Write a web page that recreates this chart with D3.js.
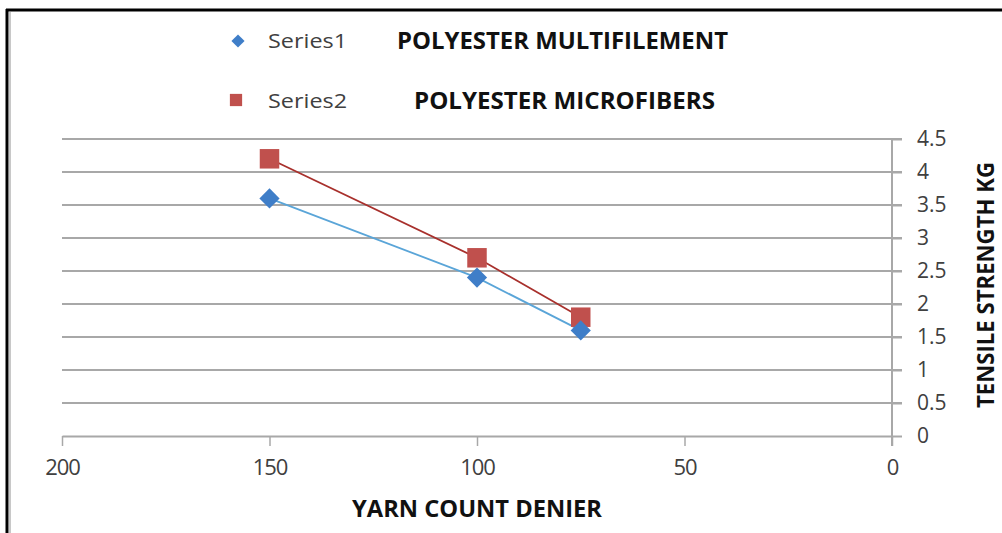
<!DOCTYPE html>
<html><head><meta charset="utf-8">
<script src="https://cdn.jsdelivr.net/npm/d3@7"></script>
<style>body{margin:0;background:#fff}svg{display:block}</style>
</head><body><svg id="c" width="1002" height="533"></svg>
<script>
const xDenier = [150, 100, 75];
const series1 = [3.6, 2.4, 1.6];
const series2 = [4.2, 2.7, 1.8];
const seriesNames = ["Series1", "Series2"];
const seriesLabels = ["POLYESTER MULTIFILEMENT", "POLYESTER MICROFIBERS"];
const xTicks = [200, 150, 100, 50, 0];
const yTicks = [0, 0.5, 1, 1.5, 2, 2.5, 3, 3.5, 4, 4.5];
const xTitle = "YARN COUNT DENIER";
const yTitle = "TENSILE STRENGTH KG";

const svg = d3.select("#c");
const font = "'Open Sans', 'DejaVu Sans', sans-serif";
const bfont = "'Liberation Sans Narrow', 'Open Sans', sans-serif";
const x = d3.scaleLinear().domain([200, 0]).range([62, 892]);
const y = d3.scaleLinear().domain([0, 4.5]).range([436, 139]);

// frame
svg.append("rect").attr("x",0).attr("y",0).attr("width",1002).attr("height",533).attr("fill","#fff");
svg.append("line").attr("x1",6).attr("x2",1002).attr("y1",10).attr("y2",10).attr("stroke","#000").attr("stroke-width",3);
svg.append("line").attr("x1",7).attr("x2",7).attr("y1",9).attr("y2",533).attr("stroke","#000").attr("stroke-width",3);
svg.append("line").attr("x1",10).attr("x2",10).attr("y1",12).attr("y2",533).attr("stroke","#c8c8c8").attr("stroke-width",2);

// gridlines
svg.append("g").selectAll("line").data(yTicks.filter(d=>d>0)).join("line")
  .attr("x1",62).attr("x2",902).attr("y1",d=>y(d)).attr("y2",d=>y(d))
  .attr("stroke","#a8a8a8").attr("stroke-width",2);

// x axis
const xAxis = d3.axisBottom(x).tickValues(xTicks).tickSize(10).tickSizeOuter(0).tickPadding(13);
const gx = svg.append("g").attr("transform","translate(0,436)").call(xAxis);
gx.select(".domain").attr("stroke","#a8a8a8").attr("stroke-width",2);
gx.selectAll(".tick line").attr("stroke","#a8a8a8").attr("stroke-width",1.5);
gx.selectAll(".tick text").attr("font-family",font).attr("font-size",22).attr("fill","#404040").attr("letter-spacing","-1");

// y axis (right)
const yAxis = d3.axisRight(y).tickValues(yTicks).tickSize(10).tickSizeOuter(0).tickPadding(15).tickFormat(d3.format("~g"));
const gy = svg.append("g").attr("transform","translate(892,0)").call(yAxis);
gy.select(".domain").attr("stroke","#a8a8a8").attr("stroke-width",2).attr("d","M0,139V446");
gy.selectAll(".tick line").attr("stroke","#a8a8a8").attr("stroke-width",2);
gy.selectAll(".tick text").attr("font-family",font).attr("font-size",21).attr("fill","#404040");

// lines
const line = d3.line().x((d,i)=>x(xDenier[i])).y(d=>y(d));
svg.append("path").datum(series1).attr("d",line).attr("fill","none").attr("stroke","#5aa5d8").attr("stroke-width",1.8);
svg.append("path").datum(series2).attr("d",line).attr("fill","none").attr("stroke","#a8302c").attr("stroke-width",1.8);

// markers
svg.append("g").selectAll("path").data(series2).join("path")
  .attr("d", d3.symbol(d3.symbolSquare, 380))
  .attr("transform",(d,i)=>`translate(${x(xDenier[i])},${y(d)})`)
  .attr("fill","#c0504d");
svg.append("g").selectAll("path").data(series1).join("path")
  .attr("d", d3.symbol(d3.symbolDiamond2 || d3.symbolDiamond, 260))
  .attr("transform",(d,i)=>`translate(${x(xDenier[i])},${y(d)})`)
  .attr("fill","#3f7ec8");

// legend
svg.append("path").attr("d", d3.symbol(d3.symbolDiamond2 || d3.symbolDiamond, 110)).attr("transform","translate(238,41)").attr("fill","#3f7ec8");
svg.append("path").attr("d", d3.symbol(d3.symbolSquare, 150)).attr("transform","translate(236,100)").attr("fill","#c0504d");
const legY = [48, 108];
seriesNames.forEach((n,i)=>{
  svg.append("text").attr("x",268).attr("y",legY[i]).text(n)
    .attr("font-family",font).attr("font-size",20).attr("fill","#404040")
    .attr("textLength",79).attr("lengthAdjust","spacingAndGlyphs");
});
const labX = [397, 414], labW = [331, 301];
seriesLabels.forEach((n,i)=>{
  svg.append("text").attr("x",labX[i]).attr("y",legY[i]+1).text(n)
    .attr("font-family",bfont).attr("font-size",23).attr("font-weight","bold").attr("fill","#111")
    .attr("textLength",labW[i]).attr("lengthAdjust","spacingAndGlyphs");
});

// axis titles
svg.append("text").attr("x",352).attr("y",517).text(xTitle)
  .attr("font-family",bfont).attr("font-size",23).attr("font-weight","bold").attr("fill","#111")
  .attr("textLength",250).attr("lengthAdjust","spacingAndGlyphs");
svg.append("text").attr("transform","translate(994,408) rotate(-90)").text(yTitle)
  .attr("font-family",bfont).attr("font-size",24).attr("font-weight","bold").attr("fill","#111")
  .attr("textLength",246).attr("lengthAdjust","spacingAndGlyphs");
</script></body></html>
